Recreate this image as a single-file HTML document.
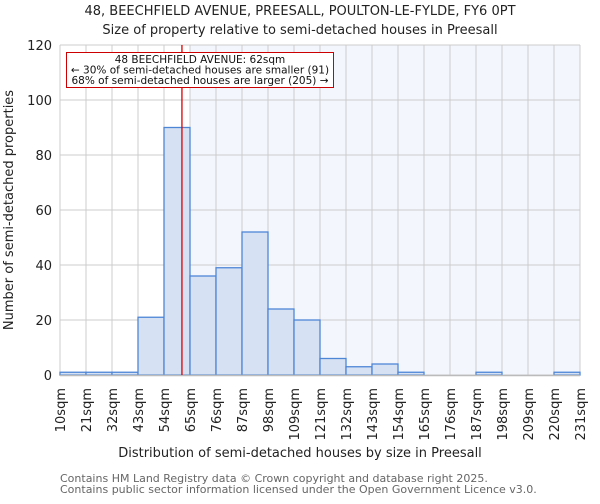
<!DOCTYPE html>
<html><head><meta charset="utf-8"><style>
body{margin:0;background:#fff;font-family:"DejaVu Sans","Liberation Sans",sans-serif}
svg text{font-family:"DejaVu Sans","Liberation Sans",sans-serif}
</style></head><body>
<svg id="chart" width="600" height="500" xmlns="http://www.w3.org/2000/svg">
<text x="300" y="15" font-size="13" text-anchor="middle" fill="#222">48, BEECHFIELD AVENUE, PREESALL, POULTON-LE-FYLDE, FY6 0PT</text>
<text x="300" y="34" font-size="13" text-anchor="middle" fill="#222">Size of property relative to semi-detached houses in Preesall</text>
<g id="plot"></g>
<text x="300" y="457" font-size="13" text-anchor="middle" fill="#222">Distribution of semi-detached houses by size in Preesall</text>
<text transform="translate(13,210) rotate(-90)" font-size="13" text-anchor="middle" fill="#222">Number of semi-detached properties</text>
<text x="60" y="482" font-size="11" fill="#666">Contains HM Land Registry data © Crown copyright and database right 2025.</text>
<text x="60" y="493" font-size="11" fill="#666">Contains public sector information licensed under the Open Government Licence v3.0.</text>
</svg>
<script>
const binLabels=["10sqm","21sqm","32sqm","43sqm","54sqm","65sqm","76sqm","87sqm","98sqm","109sqm","121sqm","132sqm","143sqm","154sqm","165sqm","176sqm","187sqm","198sqm","209sqm","220sqm","231sqm"];
const counts=[1,1,1,21,90,36,39,52,24,20,6,3,4,1,0,0,1,0,0,1];
const yTicks=[0,20,40,60,80,100,120];
const propertyBinPos=4.69;
const shadeFromBin=5;
const L=60,R=580,T=45,B=375,yMax=120;
const n=counts.length;
const bw=(R-L)/n;
const xs=i=>L+i*bw;
const ys=v=>B-(v/yMax)*(B-T);
const NS="http://www.w3.org/2000/svg";
const g=document.getElementById('plot');
function mk(t,a,p){const e=document.createElementNS(NS,t);for(const k in a)e.setAttribute(k,a[k]);(p||g).appendChild(e);return e;}
const shade=mk('rect',{x:xs(shadeFromBin),y:T,width:R-xs(shadeFromBin),height:B-T,fill:'#f3f6fd'});


yTicks.forEach(v=>{
 const l=mk('line',{x1:L,x2:R,y1:ys(v),y2:ys(v),stroke:'#ccc','stroke-width':1});
 
 
 const t=mk('text',{x:L-8,y:ys(v)+5,'font-size':13,'text-anchor':'end',fill:'#222'});
 t.textContent=v;
 
 
});
binLabels.forEach((lab,i)=>{
 const l=mk('line',{x1:xs(i),x2:xs(i),y1:T,y2:B,stroke:'#ccc','stroke-width':1});
 
 
 const t=mk('text',{transform:`translate(${xs(i)+5},388) rotate(-90)`,'font-size':13,'text-anchor':'end',fill:'#222'});
 t.textContent=lab;
 
 
});
counts.forEach((c,i)=>{
 const r=mk('rect',{x:xs(i),y:ys(c),width:bw,height:B-ys(c),fill:'#d6e1f3',stroke:'#4e86d6','stroke-width':1.3});
 
 
});
const ax=mk('line',{x1:L,x2:R,y1:B+0.5,y2:B+0.5,stroke:'#bbb','stroke-width':1.5});


const rl=mk('line',{x1:xs(propertyBinPos),x2:xs(propertyBinPos),y1:T,y2:B,stroke:'#d00','stroke-width':1.3});


const box=mk('rect',{x:66.5,y:52.5,width:267,height:35,fill:'#fff',stroke:'#c00','stroke-width':1});


[["48 BEECHFIELD AVENUE: 62sqm",63],["← 30% of semi-detached houses are smaller (91)",73.5],["68% of semi-detached houses are larger (205) →",84]].forEach(([s,y],k)=>{
 const t=mk('text',{x:200,y:y,'font-size':10.5,'text-anchor':'middle',fill:'#111'});
 t.textContent=s;
 
 
});
</script>
</body></html>
